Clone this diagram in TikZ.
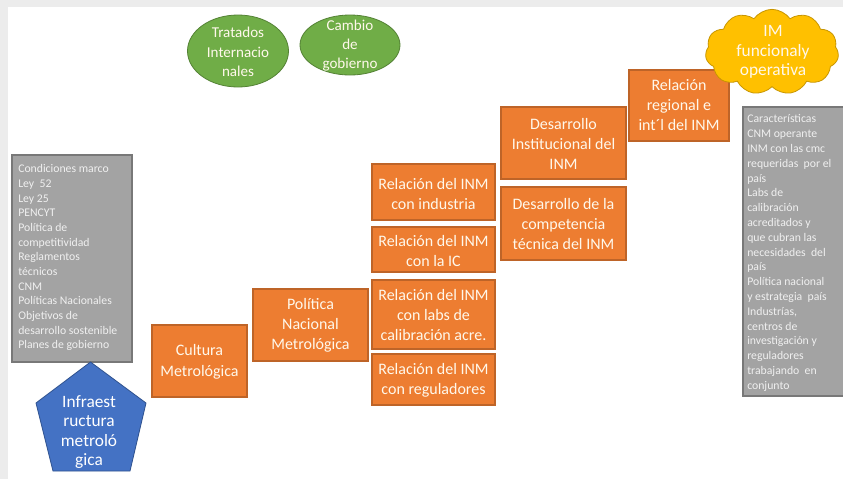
\documentclass[tikz,border=0pt]{standalone}
\usepackage{fontspec}
\setmainfont{Carlito}
\usetikzlibrary{shapes.symbols,shapes.geometric}
\definecolor{bgframe}{RGB}{236,236,236}
\definecolor{orfill}{RGB}{237,125,49}
\definecolor{ordraw}{RGB}{190,100,40}
\definecolor{gyfill}{RGB}{163,163,163}
\definecolor{gydraw}{RGB}{120,120,120}
\definecolor{gytext}{RGB}{240,240,240}
\definecolor{grfill}{RGB}{112,173,71}
\definecolor{grdraw}{RGB}{84,130,53}
\definecolor{blfill}{RGB}{68,114,196}
\definecolor{bldraw}{RGB}{47,82,143}
\definecolor{yefill}{RGB}{255,192,0}
\definecolor{yedraw}{RGB}{200,150,0}
\definecolor{lighttxt}{RGB}{255,248,235}
\tikzset{
  orbox/.style={draw=ordraw, line width=0.8pt, fill=orfill},
  ortxt/.style={text=lighttxt, align=center, font=\fontsize{12}{15}\selectfont, inner sep=0pt},
  gybox/.style={draw=gydraw, line width=0.8pt, fill=gyfill},
  gytxt/.style={text=gytext, align=left, anchor=north west, inner sep=0pt},
  grell/.style={draw=grdraw, line width=0.6pt, fill=grfill},
  grtxt/.style={text=lighttxt, align=center, font=\fontsize{11.3}{14.5}\selectfont, inner sep=0pt},
}
\begin{document}
\begin{tikzpicture}[x=0.75pt,y=-0.75pt]
\useasboundingbox (0,0) rectangle (843,479);
\fill[bgframe] (0,0) rectangle (843,479);
\fill[white] (8,7) rectangle (843,479);

% left gray box
\draw[gybox] (12,155) rectangle (132,362);
\node[gytxt, font=\fontsize{8.8}{11}\selectfont] (leftt) at (18,164.5)
 {Condiciones marco\\Ley\ \ 52\\Ley 25\\PENCYT\\Política de\\competitividad\\Reglamentos\\técnicos\\CNM\\Políticas Nacionales\\Objetivos de\\desarrollo sostenible\\Planes de gobierno};

% pentagon
\filldraw[fill=blfill, draw=bldraw, line width=0.6pt] (90.5,362) -- (146,403) -- (130,471) -- (53,471) -- (36,403) -- cycle;
\node[text=white, align=center, font=\fontsize{13}{14.6}\selectfont, inner sep=0pt] (infra) at (89,432) {Infraest\\ructura\\metroló\\gica};

% orange boxes
\draw[orbox] (152,325) rectangle (247,397);
\node[ortxt, font=\fontsize{12}{15.8}\selectfont] (cult) at (199.5,362) {Cultura\\Metrológica};

\draw[orbox] (253,289) rectangle (368,361);
\node[ortxt] (pol) at (310.5,325) {Política\\Nacional\\Metrológica};

\draw[orbox] (372,164) rectangle (495,220);
\node[ortxt] (r1) at (433.5,194) {Relación del INM\\con industria};
\draw[orbox] (372,227) rectangle (495,272);
\node[ortxt] (r2) at (433.5,251) {Relación del INM\\con la IC};
\draw[orbox] (372,280) rectangle (495,349);
\node[ortxt] (r3) at (433.5,315) {Relación del INM\\con labs de\\calibración acre.};
\draw[orbox] (372,354) rectangle (495,405);
\node[ortxt] (r4) at (433.5,380) {Relación del INM\\con reguladores};

\draw[orbox] (501,107) rectangle (626,179);
\node[ortxt] (d1) at (563.5,144) {Desarrollo\\Institucional del\\INM};
\draw[orbox] (501,187) rectangle (626,260);
\node[ortxt] (d2) at (563.5,224) {Desarrollo de la\\competencia\\técnica del INM};

\draw[orbox] (629,70) rectangle (729,141);
\node[ortxt] (rr) at (679,105) {Relación\\regional e\\int´l del INM};

% right gray box
\draw[gybox] (743,107) rectangle (845,396);
\node[gytxt, font=\fontsize{8.8}{11.1}\selectfont] (rightt) at (747,114.5)
 {Características\\CNM operante\\INM con las cmc\\requeridas\ \ por el\\país\\Labs de\\calibración\\acreditados y\\que cubran las\\necesidades\ \ del\\país\\Política nacional\\y estrategia\ \ país\\Industrías,\\centros de\\investigación y\\reguladores\\trabajando\ \ en\\conjunto};

% green ellipses
\filldraw[grell] (238,51) ellipse [x radius=50.5, y radius=36];
\node[grtxt] (trat) at (238,52) {Tratados\\Internacio\\nales};
\filldraw[grell] (350,45) ellipse [x radius=50, y radius=30];
\node[grtxt] (camb) at (350,45.5) {Cambio\\de\\gobierno};

% cloud
\node[cloud, cloud puffs=11, cloud puff arc=110, aspect=1.65, draw=yedraw, line width=0.6pt, fill=yefill,
  minimum width=100pt, minimum height=64pt, inner sep=0pt] (cloud) at (772,52) {};
\node[text=lighttxt, align=center, font=\fontsize{13}{14.6}\selectfont, inner sep=0pt] (cloudt) at (773,52) {IM\\funcionaly\\operativa};
\end{tikzpicture}
\end{document}
